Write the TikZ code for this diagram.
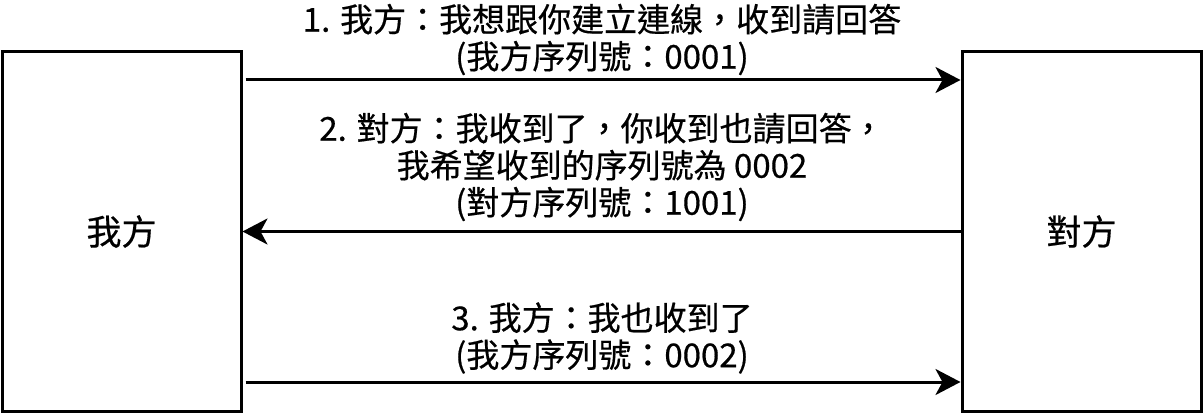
\documentclass[tikz,border=0pt]{standalone}
\usepackage{fontspec}
\setmainfont{Noto Sans CJK TC}[FakeBold=0.5]
\usetikzlibrary{arrows.meta}
\begin{document}
\begin{tikzpicture}[x=1pt,y=-1pt,
  party/.style={draw=black, line width=3pt, minimum width=239pt, minimum height=359pt, inner sep=0pt, font=\fontsize{35}{40}\selectfont},
  msg/.style={draw=black, line width=3pt, -{Stealth[length=25pt,width=26pt,inset=7pt]}},
  lbl/.style={align=center, inner sep=0pt, font=\fontsize{33}{37}\selectfont}
]
\useasboundingbox (0,0) rectangle (1203,417);
\node[party] (me) at (121.5,231.5) {我方};
\node[party] (them) at (1081.5,231.5) {對方};
\draw[msg] ([yshift=151.5pt]me.east) ++(3,0) coordinate (a1s) -- ([yshift=151.5pt]them.west) coordinate (a1e);
\draw[msg] (them.west) -- (me.east);
\draw[msg] ([yshift=-150.5pt]me.east) ++(3,0) coordinate (a3s) -- ([yshift=-150.5pt]them.west) coordinate (a3e);
\node[lbl] (l1) at (602,39.5) {1. 我方：我想跟你建立連線，收到請回答\\(我方序列號：0001)};
\node[lbl] (l2) at (602,167) {2. 對方：我收到了，你收到也請回答，\\我希望收到的序列號為 0002\\(對方序列號：1001)};
\node[lbl] (l3) at (602,338) {3. 我方：我也收到了\\(我方序列號：0002)};
\end{tikzpicture}
\end{document}
